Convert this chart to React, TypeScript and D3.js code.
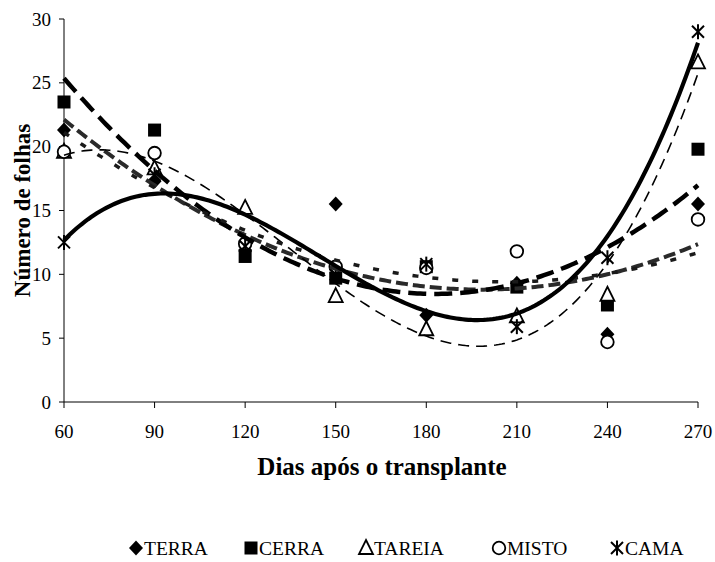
import React from "react";
import * as d3 from "d3";

const days = [60, 90, 120, 150, 180, 210, 240, 270];
const seriesNames = ["TERRA", "CERRA", "TAREIA", "MISTO", "CAMA"];
const terra = [21.3, 17.3, 11.9, 15.5, 6.8, 9.3, 5.3, 15.5];
const cerra = [23.5, 21.3, 11.4, 9.7, 10.6, 9.0, 7.6, 19.8];
const tareia = [19.6, 18.3, 15.2, 8.3, 5.7, 6.7, 8.4, 26.6];
const misto = [19.6, 19.5, 12.4, 10.6, 10.5, 11.8, 4.7, 14.3];
const cama = [12.5, 17.8, 12.2, 10.0, 10.8, 5.9, 11.3, 29.0];
const trendOrders = [2, 2, 3, 2, 3];
const xTicks = [60, 90, 120, 150, 180, 210, 240, 270];
const yTicks = [0, 5, 10, 15, 20, 25, 30];

const W = 715;
const H = 562;
const M = { left: 64, right: 698, top: 19, bottom: 402 };

function polyfit(xs: number[], ys: number[], order: number) {
  const n = order + 1;
  const xc = (x: number) => (x - 165) / 30;
  const A: number[][] = Array.from({ length: n }, () => new Array(n + 1).fill(0));
  xs.forEach((x, k) => {
    const t = xc(x);
    for (let i = 0; i < n; i++) {
      for (let j = 0; j < n; j++) A[i][j] += Math.pow(t, i + j);
      A[i][n] += Math.pow(t, i) * ys[k];
    }
  });
  for (let i = 0; i < n; i++) {
    let p = i;
    for (let r = i + 1; r < n; r++) if (Math.abs(A[r][i]) > Math.abs(A[p][i])) p = r;
    [A[i], A[p]] = [A[p], A[i]];
    for (let r = 0; r < n; r++) {
      if (r === i) continue;
      const f = A[r][i] / A[i][i];
      for (let c = i; c <= n; c++) A[r][c] -= f * A[i][c];
    }
  }
  const coef = A.map((row, i) => row[n] / row[i]);
  return (x: number) => {
    const t = xc(x);
    return coef.reduce((s, c, i) => s + c * Math.pow(t, i), 0);
  };
}

const allSeries = [terra, cerra, tareia, misto, cama];
const lineStyles = [
  { w: 4, dash: "12,5", color: "#2a2a2a" },
  { w: 4.5, dash: "18,8", color: "#000" },
  { w: 1.6, dash: "11,7", color: "#000" },
  { w: 3.5, dash: "6,14", color: "#1a1a1a" },
  { w: 4.2, dash: "", color: "#000" },
];

function Marker({ kind, x, y }: { kind: number; x: number; y: number }) {
  if (kind === 0)
    return <path d={`M${x},${y - 7.5}L${x + 7},${y}L${x},${y + 7.5}L${x - 7},${y}Z`} fill="#000" />;
  if (kind === 1) return <rect x={x - 6.5} y={y - 6.5} width={13} height={13} fill="#000" />;
  if (kind === 2)
    return (
      <path
        d={`M${x},${y - 8}L${x + 7},${y + 6}L${x - 7},${y + 6}Z`}
        fill="#fff"
        stroke="#000"
        strokeWidth={1.8}
      />
    );
  if (kind === 3) return <circle cx={x} cy={y} r={6.3} fill="#fff" stroke="#000" strokeWidth={1.8} />;
  return (
    <g stroke="#000" strokeWidth={2}>
      <line x1={x - 6} y1={y - 6} x2={x + 6} y2={y + 6} />
      <line x1={x - 6} y1={y + 6} x2={x + 6} y2={y - 6} />
      <line x1={x} y1={y - 7.5} x2={x} y2={y + 7.5} />
    </g>
  );
}

export default function App() {
  const x = d3.scaleLinear().domain([60, 270]).range([M.left, M.right]);
  const y = d3.scaleLinear().domain([0, 30]).range([M.bottom, M.top]);
  const fine = d3.range(60, 270.01, 1);
  const font = "'Liberation Serif', 'Times New Roman', serif";

  const legendX = [136, 251, 366, 499, 617];

  return (
    <svg width={W} height={H} style={{ position: "absolute", left: 0, top: 0, background: "#fff" }}>
      <rect width={W} height={H} fill="#fff" />
      <line x1={M.left} y1={M.top} x2={M.left} y2={M.bottom} stroke="#000" strokeWidth={1} />
      <line x1={M.left} y1={M.bottom} x2={M.right} y2={M.bottom} stroke="#000" strokeWidth={1} />
      {yTicks.map((t) => (
        <g key={"y" + t}>
          <line x1={M.left - 5} x2={M.left} y1={y(t)} y2={y(t)} stroke="#000" />
          <text x={M.left - 13} y={y(t) + 6.5} textAnchor="end" fontFamily={font} fontSize={19}>
            {t}
          </text>
        </g>
      ))}
      {xTicks.map((t) => (
        <g key={"x" + t}>
          <line x1={x(t)} x2={x(t)} y1={M.bottom} y2={M.bottom + 6} stroke="#000" />
          <text x={x(t)} y={438} textAnchor="middle" fontFamily={font} fontSize={19}>
            {t}
          </text>
        </g>
      ))}
      {allSeries.map((s, si) =>
        s.map((v, i) => <Marker key={si + "-" + i} kind={si} x={x(days[i])} y={y(v)} />)
      )}
      {allSeries.map((s, si) => {
        const f = polyfit(days, s, trendOrders[si]);
        const line = d3
          .line<number>()
          .x((d) => x(d))
          .y((d) => y(f(d)));
        return (
          <path
            key={"t" + si}
            d={line(fine) || ""}
            fill="none"
            stroke={lineStyles[si].color}
            strokeWidth={lineStyles[si].w}
            strokeDasharray={lineStyles[si].dash || undefined}
          />
        );
      })}
      <text
        transform={`translate(30,${(M.top + M.bottom) / 2}) rotate(-90)`}
        textAnchor="middle"
        fontFamily={font}
        fontWeight="bold"
        fontSize={23}
      >
        Número de folhas
      </text>
      <text x={382} y={475} textAnchor="middle" fontFamily={font} fontWeight="bold" fontSize={25}>
        Dias após o transplante
      </text>
      {seriesNames.map((n, i) => (
        <g key={n}>
          <Marker kind={i} x={legendX[i]} y={548} />
          <text x={legendX[i] + 8} y={555} fontFamily={font} fontSize={19.5}>
            {n}
          </text>
        </g>
      ))}
    </svg>
  );
}
